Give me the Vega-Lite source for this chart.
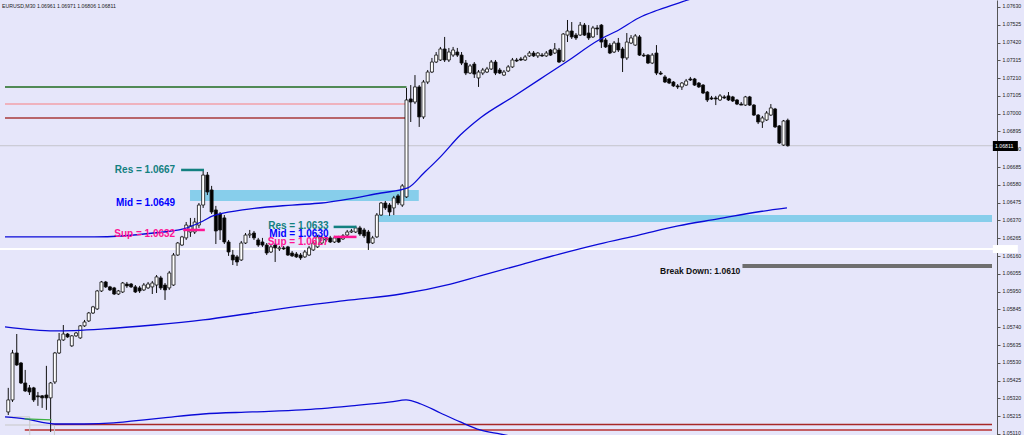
{
"$schema": "https://vega.github.io/schema/vega-lite/v6.json",
"width": 997, "height": 435,
"autosize": {"type": "none"},
"padding": {"left": 0, "top": 0, "right": 27, "bottom": 0},
"background": "#e6e6fa",
"config": {"view": {"stroke": null}, "font": "Liberation Sans",
 "axis": {"labelOverlap": false, "tickCount": 40, "labelFontSize": 5.2, "labelFont": "Liberation Sans", "labelColor": "#222222", "tickSize": 3, "tickColor": "#555555", "domainColor": "#555555", "labelPadding": 2, "grid": false, "labelBound": false, "labelFlush": false, "labelOffset": -1}},
"title": {"text": "EURUSD,M30  1.06961 1.06971 1.06806 1.06811", "anchor": "start", "frame": "group", "orient": "top", "offset": -11, "dx": 2, "fontSize": 5.2, "fontWeight": "normal", "font": "Liberation Sans", "color": "#222222", "baseline": "middle"},
"resolve": {"scale": {"color": "independent", "fill": "independent", "strokeWidth": "independent"}},
"datasets": {
"candles": [
{"i":0,"o":1.05240,"h":1.05382,"l":1.05222,"c":1.05311},
{"i":1,"o":1.05311,"h":1.05606,"l":1.05299,"c":1.05588},
{"i":2,"o":1.05588,"h":1.05700,"l":1.05512,"c":1.05517},
{"i":3,"o":1.05529,"h":1.05535,"l":1.05405,"c":1.05411},
{"i":4,"o":1.05411,"h":1.05488,"l":1.05358,"c":1.05364},
{"i":5,"o":1.05382,"h":1.05399,"l":1.05340,"c":1.05358},
{"i":6,"o":1.05382,"h":1.05388,"l":1.05299,"c":1.05311},
{"i":7,"o":1.05335,"h":1.05358,"l":1.05276,"c":1.05329},
{"i":8,"o":1.05335,"h":1.05340,"l":1.05264,"c":1.05323},
{"i":9,"o":1.05340,"h":1.05512,"l":1.05252,"c":1.05323},
{"i":10,"o":1.05323,"h":1.05417,"l":1.05122,"c":1.05411},
{"i":11,"o":1.05417,"h":1.05594,"l":1.05405,"c":1.05588},
{"i":12,"o":1.05588,"h":1.05706,"l":1.05582,"c":1.05665},
{"i":13,"o":1.05665,"h":1.05753,"l":1.05659,"c":1.05700},
{"i":14,"o":1.05700,"h":1.05706,"l":1.05677,"c":1.05683},
{"i":15,"o":1.05630,"h":1.05694,"l":1.05624,"c":1.05689},
{"i":16,"o":1.05689,"h":1.05712,"l":1.05683,"c":1.05706},
{"i":17,"o":1.05677,"h":1.05753,"l":1.05671,"c":1.05748},
{"i":18,"o":1.05748,"h":1.05783,"l":1.05742,"c":1.05771},
{"i":19,"o":1.05777,"h":1.05830,"l":1.05771,"c":1.05824},
{"i":20,"o":1.05824,"h":1.05866,"l":1.05818,"c":1.05860},
{"i":21,"o":1.05848,"h":1.05960,"l":1.05842,"c":1.05954},
{"i":22,"o":1.05954,"h":1.06013,"l":1.05948,"c":1.06007},
{"i":23,"o":1.06007,"h":1.06013,"l":1.05972,"c":1.05978},
{"i":24,"o":1.05978,"h":1.05984,"l":1.05954,"c":1.05960},
{"i":25,"o":1.05972,"h":1.05978,"l":1.05930,"c":1.05936},
{"i":26,"o":1.05936,"h":1.05960,"l":1.05930,"c":1.05954},
{"i":27,"o":1.05948,"h":1.06007,"l":1.05942,"c":1.06001},
{"i":28,"o":1.05995,"h":1.06007,"l":1.05972,"c":1.05984},
{"i":29,"o":1.05995,"h":1.06001,"l":1.05972,"c":1.05978},
{"i":30,"o":1.05978,"h":1.05989,"l":1.05942,"c":1.05948},
{"i":31,"o":1.05972,"h":1.05984,"l":1.05942,"c":1.05954},
{"i":32,"o":1.05960,"h":1.06001,"l":1.05954,"c":1.05989},
{"i":33,"o":1.05972,"h":1.06007,"l":1.05966,"c":1.05995},
{"i":34,"o":1.05978,"h":1.06013,"l":1.05936,"c":1.06001},
{"i":35,"o":1.05989,"h":1.06048,"l":1.05942,"c":1.06037},
{"i":36,"o":1.06031,"h":1.06043,"l":1.05960,"c":1.05972},
{"i":37,"o":1.05989,"h":1.06001,"l":1.05901,"c":1.05960},
{"i":38,"o":1.05972,"h":1.06072,"l":1.05960,"c":1.06060},
{"i":39,"o":1.05989,"h":1.06178,"l":1.05984,"c":1.06166},
{"i":40,"o":1.06166,"h":1.06243,"l":1.06161,"c":1.06237},
{"i":41,"o":1.06225,"h":1.06279,"l":1.06220,"c":1.06273},
{"i":42,"o":1.06267,"h":1.06361,"l":1.06255,"c":1.06343},
{"i":43,"o":1.06302,"h":1.06385,"l":1.06273,"c":1.06338},
{"i":44,"o":1.06302,"h":1.06385,"l":1.06290,"c":1.06361},
{"i":45,"o":1.06343,"h":1.06473,"l":1.06326,"c":1.06461},
{"i":46,"o":1.06461,"h":1.06668,"l":1.06444,"c":1.06638},
{"i":47,"o":1.06638,"h":1.06656,"l":1.06520,"c":1.06538},
{"i":48,"o":1.06550,"h":1.06574,"l":1.06408,"c":1.06420},
{"i":49,"o":1.06432,"h":1.06456,"l":1.06231,"c":1.06308},
{"i":50,"o":1.06408,"h":1.06420,"l":1.06255,"c":1.06314},
{"i":51,"o":1.06385,"h":1.06402,"l":1.06231,"c":1.06243},
{"i":52,"o":1.06243,"h":1.06255,"l":1.06161,"c":1.06184},
{"i":53,"o":1.06166,"h":1.06196,"l":1.06107,"c":1.06137},
{"i":54,"o":1.06155,"h":1.06166,"l":1.06102,"c":1.06125},
{"i":55,"o":1.06137,"h":1.06249,"l":1.06131,"c":1.06237},
{"i":56,"o":1.06237,"h":1.06296,"l":1.06231,"c":1.06284},
{"i":57,"o":1.06284,"h":1.06314,"l":1.06267,"c":1.06290},
{"i":58,"o":1.06296,"h":1.06308,"l":1.06255,"c":1.06267},
{"i":59,"o":1.06255,"h":1.06267,"l":1.06214,"c":1.06225},
{"i":60,"o":1.06243,"h":1.06267,"l":1.06214,"c":1.06225},
{"i":61,"o":1.06225,"h":1.06237,"l":1.06166,"c":1.06178},
{"i":62,"o":1.06184,"h":1.06225,"l":1.06178,"c":1.06214},
{"i":63,"o":1.06225,"h":1.06237,"l":1.06125,"c":1.06208},
{"i":64,"o":1.06202,"h":1.06220,"l":1.06190,"c":1.06208},
{"i":65,"o":1.06208,"h":1.06220,"l":1.06196,"c":1.06202},
{"i":66,"o":1.06214,"h":1.06220,"l":1.06161,"c":1.06166},
{"i":67,"o":1.06178,"h":1.06190,"l":1.06155,"c":1.06161},
{"i":68,"o":1.06172,"h":1.06184,"l":1.06149,"c":1.06155},
{"i":69,"o":1.06166,"h":1.06178,"l":1.06137,"c":1.06149},
{"i":70,"o":1.06155,"h":1.06196,"l":1.06149,"c":1.06184},
{"i":71,"o":1.06166,"h":1.06220,"l":1.06161,"c":1.06208},
{"i":72,"o":1.06196,"h":1.06249,"l":1.06190,"c":1.06237},
{"i":73,"o":1.06214,"h":1.06284,"l":1.06208,"c":1.06273},
{"i":74,"o":1.06237,"h":1.06279,"l":1.06231,"c":1.06267},
{"i":75,"o":1.06255,"h":1.06279,"l":1.06243,"c":1.06261},
{"i":76,"o":1.06267,"h":1.06279,"l":1.06237,"c":1.06243},
{"i":77,"o":1.06243,"h":1.06279,"l":1.06237,"c":1.06267},
{"i":78,"o":1.06267,"h":1.06279,"l":1.06237,"c":1.06243},
{"i":79,"o":1.06261,"h":1.06290,"l":1.06255,"c":1.06279},
{"i":80,"o":1.06284,"h":1.06314,"l":1.06279,"c":1.06302},
{"i":81,"o":1.06302,"h":1.06320,"l":1.06296,"c":1.06308},
{"i":82,"o":1.06302,"h":1.06338,"l":1.06296,"c":1.06326},
{"i":83,"o":1.06326,"h":1.06338,"l":1.06279,"c":1.06290},
{"i":84,"o":1.06314,"h":1.06326,"l":1.06267,"c":1.06279},
{"i":85,"o":1.06302,"h":1.06314,"l":1.06196,"c":1.06237},
{"i":86,"o":1.06237,"h":1.06279,"l":1.06231,"c":1.06267},
{"i":87,"o":1.06273,"h":1.06414,"l":1.06267,"c":1.06402},
{"i":88,"o":1.06402,"h":1.06479,"l":1.06397,"c":1.06473},
{"i":89,"o":1.06473,"h":1.06485,"l":1.06432,"c":1.06444},
{"i":90,"o":1.06461,"h":1.06473,"l":1.06397,"c":1.06420},
{"i":91,"o":1.06444,"h":1.06515,"l":1.06402,"c":1.06503},
{"i":92,"o":1.06515,"h":1.06526,"l":1.06461,"c":1.06473},
{"i":93,"o":1.06461,"h":1.06585,"l":1.06450,"c":1.06574},
{"i":94,"o":1.06509,"h":1.07152,"l":1.06503,"c":1.07081},
{"i":95,"o":1.07087,"h":1.07169,"l":1.06951,"c":1.07069},
{"i":96,"o":1.07069,"h":1.07228,"l":1.07057,"c":1.07158},
{"i":97,"o":1.07158,"h":1.07169,"l":1.06922,"c":1.06981},
{"i":98,"o":1.06981,"h":1.07199,"l":1.06969,"c":1.07187},
{"i":99,"o":1.07187,"h":1.07258,"l":1.07175,"c":1.07246},
{"i":100,"o":1.07246,"h":1.07329,"l":1.07240,"c":1.07305},
{"i":101,"o":1.07305,"h":1.07364,"l":1.07299,"c":1.07346},
{"i":102,"o":1.07317,"h":1.07394,"l":1.07311,"c":1.07382},
{"i":103,"o":1.07382,"h":1.07453,"l":1.07305,"c":1.07317},
{"i":104,"o":1.07317,"h":1.07388,"l":1.07305,"c":1.07364},
{"i":105,"o":1.07346,"h":1.07394,"l":1.07335,"c":1.07376},
{"i":106,"o":1.07364,"h":1.07388,"l":1.07335,"c":1.07346},
{"i":107,"o":1.07346,"h":1.07364,"l":1.07287,"c":1.07299},
{"i":108,"o":1.07299,"h":1.07317,"l":1.07228,"c":1.07240},
{"i":109,"o":1.07240,"h":1.07293,"l":1.07234,"c":1.07282},
{"i":110,"o":1.07293,"h":1.07305,"l":1.07211,"c":1.07234},
{"i":111,"o":1.07211,"h":1.07258,"l":1.07158,"c":1.07246},
{"i":112,"o":1.07240,"h":1.07270,"l":1.07228,"c":1.07258},
{"i":113,"o":1.07246,"h":1.07276,"l":1.07240,"c":1.07264},
{"i":114,"o":1.07264,"h":1.07317,"l":1.07258,"c":1.07305},
{"i":115,"o":1.07305,"h":1.07317,"l":1.07228,"c":1.07240},
{"i":116,"o":1.07258,"h":1.07270,"l":1.07234,"c":1.07240},
{"i":117,"o":1.07228,"h":1.07258,"l":1.07223,"c":1.07246},
{"i":118,"o":1.07252,"h":1.07287,"l":1.07246,"c":1.07276},
{"i":119,"o":1.07276,"h":1.07329,"l":1.07270,"c":1.07317},
{"i":120,"o":1.07317,"h":1.07329,"l":1.07305,"c":1.07311},
{"i":121,"o":1.07323,"h":1.07335,"l":1.07311,"c":1.07317},
{"i":122,"o":1.07317,"h":1.07346,"l":1.07311,"c":1.07335},
{"i":123,"o":1.07341,"h":1.07370,"l":1.07335,"c":1.07358},
{"i":124,"o":1.07358,"h":1.07370,"l":1.07335,"c":1.07341},
{"i":125,"o":1.07341,"h":1.07364,"l":1.07329,"c":1.07358},
{"i":126,"o":1.07346,"h":1.07358,"l":1.07335,"c":1.07341},
{"i":127,"o":1.07341,"h":1.07370,"l":1.07335,"c":1.07358},
{"i":128,"o":1.07376,"h":1.07382,"l":1.07341,"c":1.07346},
{"i":129,"o":1.07358,"h":1.07417,"l":1.07352,"c":1.07382},
{"i":130,"o":1.07376,"h":1.07388,"l":1.07299,"c":1.07305},
{"i":131,"o":1.07311,"h":1.07476,"l":1.07305,"c":1.07470},
{"i":132,"o":1.07464,"h":1.07553,"l":1.07423,"c":1.07488},
{"i":133,"o":1.07488,"h":1.07541,"l":1.07441,"c":1.07453},
{"i":134,"o":1.07464,"h":1.07476,"l":1.07435,"c":1.07447},
{"i":135,"o":1.07464,"h":1.07541,"l":1.07459,"c":1.07523},
{"i":136,"o":1.07523,"h":1.07535,"l":1.07459,"c":1.07464},
{"i":137,"o":1.07476,"h":1.07523,"l":1.07435,"c":1.07447},
{"i":138,"o":1.07453,"h":1.07518,"l":1.07447,"c":1.07506},
{"i":139,"o":1.07506,"h":1.07523,"l":1.07464,"c":1.07500},
{"i":140,"o":1.07523,"h":1.07529,"l":1.07388,"c":1.07423},
{"i":141,"o":1.07435,"h":1.07447,"l":1.07388,"c":1.07394},
{"i":142,"o":1.07405,"h":1.07417,"l":1.07352,"c":1.07358},
{"i":143,"o":1.07364,"h":1.07429,"l":1.07358,"c":1.07417},
{"i":144,"o":1.07417,"h":1.07447,"l":1.07364,"c":1.07376},
{"i":145,"o":1.07382,"h":1.07394,"l":1.07246,"c":1.07329},
{"i":146,"o":1.07329,"h":1.07476,"l":1.07317,"c":1.07423},
{"i":147,"o":1.07417,"h":1.07464,"l":1.07411,"c":1.07447},
{"i":148,"o":1.07405,"h":1.07470,"l":1.07400,"c":1.07459},
{"i":149,"o":1.07453,"h":1.07464,"l":1.07341,"c":1.07346},
{"i":150,"o":1.07346,"h":1.07358,"l":1.07335,"c":1.07341},
{"i":151,"o":1.07346,"h":1.07352,"l":1.07293,"c":1.07299},
{"i":152,"o":1.07299,"h":1.07358,"l":1.07293,"c":1.07346},
{"i":153,"o":1.07358,"h":1.07405,"l":1.07228,"c":1.07240},
{"i":154,"o":1.07240,"h":1.07252,"l":1.07228,"c":1.07234},
{"i":155,"o":1.07217,"h":1.07228,"l":1.07181,"c":1.07187},
{"i":156,"o":1.07205,"h":1.07211,"l":1.07175,"c":1.07181},
{"i":157,"o":1.07187,"h":1.07193,"l":1.07158,"c":1.07164},
{"i":158,"o":1.07164,"h":1.07175,"l":1.07146,"c":1.07158},
{"i":159,"o":1.07158,"h":1.07187,"l":1.07140,"c":1.07181},
{"i":160,"o":1.07169,"h":1.07205,"l":1.07164,"c":1.07193},
{"i":161,"o":1.07205,"h":1.07217,"l":1.07193,"c":1.07199},
{"i":162,"o":1.07205,"h":1.07211,"l":1.07164,"c":1.07169},
{"i":163,"o":1.07181,"h":1.07187,"l":1.07152,"c":1.07158},
{"i":164,"o":1.07169,"h":1.07175,"l":1.07116,"c":1.07122},
{"i":165,"o":1.07128,"h":1.07134,"l":1.07069,"c":1.07081},
{"i":166,"o":1.07093,"h":1.07105,"l":1.07081,"c":1.07087},
{"i":167,"o":1.07093,"h":1.07105,"l":1.07051,"c":1.07087},
{"i":168,"o":1.07081,"h":1.07116,"l":1.07075,"c":1.07105},
{"i":169,"o":1.07099,"h":1.07110,"l":1.07087,"c":1.07093},
{"i":170,"o":1.07105,"h":1.07128,"l":1.07075,"c":1.07081},
{"i":171,"o":1.07099,"h":1.07105,"l":1.07069,"c":1.07075},
{"i":172,"o":1.07081,"h":1.07087,"l":1.07051,"c":1.07057},
{"i":173,"o":1.07057,"h":1.07069,"l":1.07051,"c":1.07051},
{"i":174,"o":1.07051,"h":1.07105,"l":1.07046,"c":1.07099},
{"i":175,"o":1.07099,"h":1.07105,"l":1.07046,"c":1.07051},
{"i":176,"o":1.07051,"h":1.07057,"l":1.06987,"c":1.06992},
{"i":177,"o":1.06992,"h":1.06998,"l":1.06939,"c":1.06951},
{"i":178,"o":1.06951,"h":1.06987,"l":1.06916,"c":1.06975},
{"i":179,"o":1.06963,"h":1.07016,"l":1.06957,"c":1.07004},
{"i":180,"o":1.06992,"h":1.07057,"l":1.06987,"c":1.07034},
{"i":181,"o":1.07028,"h":1.07034,"l":1.06916,"c":1.06922},
{"i":182,"o":1.06928,"h":1.06933,"l":1.06821,"c":1.06827},
{"i":183,"o":1.06815,"h":1.06963,"l":1.06810,"c":1.06957},
{"i":184,"o":1.06961,"h":1.06971,"l":1.06806,"c":1.06811}
],
"ma": [
{"s":"fast","i":-0.77,"p":1.06273},{"s":"fast","i":20.3,"p":1.06273},{"s":"fast","i":34.3,"p":1.06296},{"s":"fast","i":41.3,"p":1.06320},{"s":"fast","i":46.0,"p":1.06367},{"s":"fast","i":48.3,"p":1.06397},{"s":"fast","i":55.3,"p":1.06432},{"s":"fast","i":67.0,"p":1.06461},{"s":"fast","i":74.0,"p":1.06473},{"s":"fast","i":88.0,"p":1.06532},{"s":"fast","i":94.3,"p":1.06562},{"s":"fast","i":98.1,"p":1.06650},{"s":"fast","i":102.0,"p":1.06745},{"s":"fast","i":106.7,"p":1.06874},{"s":"fast","i":111.4,"p":1.06975},{"s":"fast","i":119.1,"p":1.07099},{"s":"fast","i":127.0,"p":1.07228},{"s":"fast","i":131.7,"p":1.07305},{"s":"fast","i":139.4,"p":1.07435},{"s":"fast","i":144.1,"p":1.07494},{"s":"fast","i":148.8,"p":1.07565},{"s":"fast","i":153.4,"p":1.07612},{"s":"fast","i":160.4,"p":1.07671},{"s":"fast","i":167.5,"p":1.07730},
{"s":"slow","i":-0.77,"p":1.05742},{"s":"slow","i":10.9,"p":1.05718},{"s":"slow","i":22.6,"p":1.05730},{"s":"slow","i":34.3,"p":1.05753},{"s":"slow","i":46.0,"p":1.05783},{"s":"slow","i":57.6,"p":1.05824},{"s":"slow","i":69.3,"p":1.05866},{"s":"slow","i":81.0,"p":1.05901},{"s":"slow","i":92.7,"p":1.05936},{"s":"slow","i":104.4,"p":1.05995},{"s":"slow","i":111.4,"p":1.06043},{"s":"slow","i":120.7,"p":1.06107},{"s":"slow","i":130.1,"p":1.06172},{"s":"slow","i":139.4,"p":1.06231},{"s":"slow","i":148.8,"p":1.06284},{"s":"slow","i":158.1,"p":1.06338},{"s":"slow","i":167.5,"p":1.06379},{"s":"slow","i":176.8,"p":1.06420},{"s":"slow","i":183.8,"p":1.06444},
{"s":"bottom","i":-0.77,"p":1.05211},{"s":"bottom","i":3.9,"p":1.05199},{"s":"bottom","i":10.9,"p":1.05169},{"s":"bottom","i":17.9,"p":1.05169},{"s":"bottom","i":24.9,"p":1.05175},{"s":"bottom","i":29.6,"p":1.05187},{"s":"bottom","i":36.6,"p":1.05205},{"s":"bottom","i":46.0,"p":1.05228},{"s":"bottom","i":57.6,"p":1.05240},{"s":"bottom","i":69.3,"p":1.05252},{"s":"bottom","i":81.0,"p":1.05276},{"s":"bottom","i":90.3,"p":1.05299},{"s":"bottom","i":93.9,"p":1.05311},{"s":"bottom","i":97.4,"p":1.05287},{"s":"bottom","i":102.0,"p":1.05234},{"s":"bottom","i":106.7,"p":1.05181},{"s":"bottom","i":111.4,"p":1.05134},{"s":"bottom","i":116.0,"p":1.05110},{"s":"bottom","i":119.5,"p":1.05093},
{"s":"green","i":3.9,"p":1.05199},{"s":"green","i":10.2,"p":1.05193}
],
"levels": [
{"name":"a","x0":-0.77,"x1":94,"p":1.07158},
{"name":"b","x0":-0.77,"x1":94,"p":1.07057},
{"name":"c","x0":-0.77,"x1":94,"p":1.06975},
{"name":"d","x0":10.2,"x1":232.2,"p":1.05166},
{"name":"e","x0":3.9,"x1":232.2,"p":1.05134}
],
"frame": [
{"x0":-0.77,"x1":5.07,"p0":1.05211,"p1":1.05211},
{"x0":5.07,"x1":5.07,"p0":1.05211,"p1":1.05104},
{"x0":-0.77,"x1":10.9,"p0":1.05163,"p1":1.05163},
{"x0":10.9,"x1":10.9,"p0":1.05163,"p1":1.05104}
],
"zones": [
{"x0":42.9,"x1":96.9,"p0":1.06550,"p1":1.06485},
{"x0":87.1,"x1":232.2,"p0":1.06402,"p1":1.06361}
],
"segs": [
{"k":"res","x0":40.8,"x1":46.2,"p":1.06668},
{"k":"sup","x0":41.3,"x1":46.4,"p":1.06314},
{"k":"res","x0":76.8,"x1":82.2,"p":1.06332},
{"k":"sup","x0":76.8,"x1":82.2,"p":1.06273}
],
"labels": [
{"t":"Res =  1.0667","i":39.4,"p":1.06668,"k":"res"},
{"t":"Mid =  1.0649","i":39.4,"p":1.06473,"k":"mid"},
{"t":"Sup =  1.0632","i":39.4,"p":1.06290,"k":"sup"},
{"t":"Res =  1.0633","i":75.6,"p":1.06338,"k":"res"},
{"t":"Mid =  1.0630","i":75.6,"p":1.06290,"k":"mid"},
{"t":"Sup =  1.0627","i":75.6,"p":1.06245,"k":"sup"}
],
"bd": [{"t":"Break Down: 1.0610","i":172.8,"p":1.06072,"x0":173.3,"x1":232.2,"lp":1.06102}],
"hlines": [{"k":"white","p":1.06202},{"k":"cur","p":1.06811}],
"pbox": [
{"k":"cur","x0":232.4,"x1":238.3,"p0":1.06839,"p1":1.06780,"t":"1.06811","i":232.9,"p":1.06811},
{"k":"white","x0":232.4,"x1":238.3,"p0":1.06225,"p1":1.06178,"t":"1.06202","i":232.9,"p":1.06202}
]
},
"layer": [
{"data":{"name":"zones"},"mark":{"type":"rect","fill":"#87ceeb"},
 "encoding":{
  "x":{"field":"x0","type":"quantitative","scale":{"domain":[-0.77,232.2],"nice":false,"zero":false},"axis":null},
  "x2":{"field":"x1"},
  "y":{"field":"p0","type":"quantitative","scale":{"domain":[1.05104,1.07671],"nice":false,"zero":false},
   "axis":{"orient":"right","title":null,"grid":false,"tickCount":40,"values":[1.0511,1.05215,1.0532,1.05425,1.0553,1.05635,1.0574,1.05845,1.0595,1.06055,1.0616,1.06265,1.0637,1.06475,1.0658,1.06685,1.0679,1.06895,1.07,1.07105,1.0721,1.07315,1.0742,1.07525,1.0763],"format":".5f","labelOverlap":false}},
  "y2":{"field":"p1"}}},
{"data":{"name":"hlines"},"mark":{"type":"rule"},
 "encoding":{
  "y":{"field":"p","type":"quantitative","scale":{"domain":[1.05104,1.07671],"nice":false,"zero":false},"title":null},
  "color":{"field":"k","type":"nominal","scale":{"domain":["white","cur"],"range":["#ffffff","#c4c4cc"]},"legend":null},
  "strokeWidth":{"field":"k","type":"nominal","scale":{"domain":["white","cur"],"range":[2,1]},"legend":null}}},
{"data":{"name":"levels"},"mark":{"type":"rule","strokeWidth":1.5},
 "encoding":{
  "x":{"field":"x0","type":"quantitative","scale":{"domain":[-0.77,232.2],"nice":false,"zero":false},"axis":null},
  "x2":{"field":"x1"},
  "y":{"field":"p","type":"quantitative","scale":{"domain":[1.05104,1.07671],"nice":false,"zero":false},"title":null},
  "color":{"field":"name","type":"nominal","scale":{"domain":["a","b","c","d","e"],"range":["#1f6b1f","#f2a0a8","#a83a3a","#a82828","#b83030"]},"legend":null}}},
{"data":{"name":"frame"},"mark":{"type":"rule","strokeWidth":1,"color":"#c8c8c8"},
 "encoding":{
  "x":{"field":"x0","type":"quantitative","scale":{"domain":[-0.77,232.2],"nice":false,"zero":false},"axis":null},
  "x2":{"field":"x1"},
  "y":{"field":"p0","type":"quantitative","scale":{"domain":[1.05104,1.07671],"nice":false,"zero":false},"title":null},
  "y2":{"field":"p1"}}},
{"data":{"name":"candles"},"mark":{"type":"rule","strokeWidth":1,"color":"#111111"},
 "encoding":{
  "x":{"field":"i","type":"quantitative","scale":{"domain":[-0.77,232.2],"nice":false,"zero":false},"axis":null},
  "y":{"field":"l","type":"quantitative","scale":{"domain":[1.05104,1.07671],"nice":false,"zero":false},"title":null},
  "y2":{"field":"h"}}},
{"data":{"name":"candles"},"mark":{"type":"bar","size":3,"stroke":"#111111","strokeWidth":0.8},
 "encoding":{
  "x":{"field":"i","type":"quantitative","scale":{"domain":[-0.77,232.2],"nice":false,"zero":false},"axis":null},
  "y":{"field":"o","type":"quantitative","scale":{"domain":[1.05104,1.07671],"nice":false,"zero":false},"title":null},
  "y2":{"field":"c"},
  "fill":{"condition":{"test":"datum.c > datum.o","value":"#ffffff"},"value":"#000000"}}},
{"data":{"name":"ma"},"mark":{"type":"line","clip":true,"strokeWidth":1.3,"interpolate":"monotone"},
 "encoding":{
  "x":{"field":"i","type":"quantitative","scale":{"domain":[-0.77,232.2],"nice":false,"zero":false},"axis":null},
  "y":{"field":"p","type":"quantitative","scale":{"domain":[1.05104,1.07671],"nice":false,"zero":false},"title":null},
  "color":{"field":"s","type":"nominal","scale":{"domain":["fast","slow","bottom","green"],"range":["#0a0ad8","#0a0ad8","#0a0ad8","#3cb043"]},"legend":null}}},
{"data":{"name":"segs"},"mark":{"type":"rule","strokeWidth":2.5},
 "encoding":{
  "x":{"field":"x0","type":"quantitative","scale":{"domain":[-0.77,232.2],"nice":false,"zero":false},"axis":null},
  "x2":{"field":"x1"},
  "y":{"field":"p","type":"quantitative","scale":{"domain":[1.05104,1.07671],"nice":false,"zero":false},"title":null},
  "color":{"field":"k","type":"nominal","scale":{"domain":["res","mid","sup"],"range":["#138080","#0000ff","#ff1493"]},"legend":null}}},
{"data":{"name":"bd"},"mark":{"type":"rule","strokeWidth":4,"color":"#6e6e6e"},
 "encoding":{
  "x":{"field":"x0","type":"quantitative","scale":{"domain":[-0.77,232.2],"nice":false,"zero":false},"axis":null},
  "x2":{"field":"x1"},
  "y":{"field":"lp","type":"quantitative","scale":{"domain":[1.05104,1.07671],"nice":false,"zero":false},"title":null}}},
{"data":{"name":"labels"},"mark":{"type":"text","align":"right","baseline":"middle","fontSize":10,"fontWeight":"bold","font":"Liberation Sans"},
 "encoding":{
  "x":{"field":"i","type":"quantitative","scale":{"domain":[-0.77,232.2],"nice":false,"zero":false},"axis":null},
  "y":{"field":"p","type":"quantitative","scale":{"domain":[1.05104,1.07671],"nice":false,"zero":false},"title":null},
  "text":{"field":"t"},
  "color":{"field":"k","type":"nominal","scale":{"domain":["res","mid","sup"],"range":["#138080","#0000ff","#ff1493"]},"legend":null}}},
{"data":{"name":"bd"},"mark":{"type":"text","align":"right","baseline":"middle","fontSize":8.5,"fontWeight":"bold","font":"Liberation Sans","color":"#111111"},
 "encoding":{
  "x":{"field":"i","type":"quantitative","scale":{"domain":[-0.77,232.2],"nice":false,"zero":false},"axis":null},
  "y":{"field":"p","type":"quantitative","scale":{"domain":[1.05104,1.07671],"nice":false,"zero":false},"title":null},
  "text":{"field":"t"}}},
{"data":{"name":"pbox"},"mark":{"type":"rect"},
 "encoding":{
  "x":{"field":"x0","type":"quantitative","scale":{"domain":[-0.77,232.2],"nice":false,"zero":false},"axis":null},
  "x2":{"field":"x1"},
  "y":{"field":"p0","type":"quantitative","scale":{"domain":[1.05104,1.07671],"nice":false,"zero":false},"title":null},
  "y2":{"field":"p1"},
  "fill":{"field":"k","type":"nominal","scale":{"domain":["cur","white"],"range":["#000000","#ffffff"]},"legend":null}}},
{"data":{"name":"pbox"},"mark":{"type":"text","align":"left","baseline":"middle","fontSize":5.2,"font":"Liberation Sans","color":"#ffffff"},
 "encoding":{
  "x":{"field":"i","type":"quantitative","scale":{"domain":[-0.77,232.2],"nice":false,"zero":false},"axis":null},
  "y":{"field":"p","type":"quantitative","scale":{"domain":[1.05104,1.07671],"nice":false,"zero":false},"title":null},
  "text":{"field":"t"}}}
]
}
